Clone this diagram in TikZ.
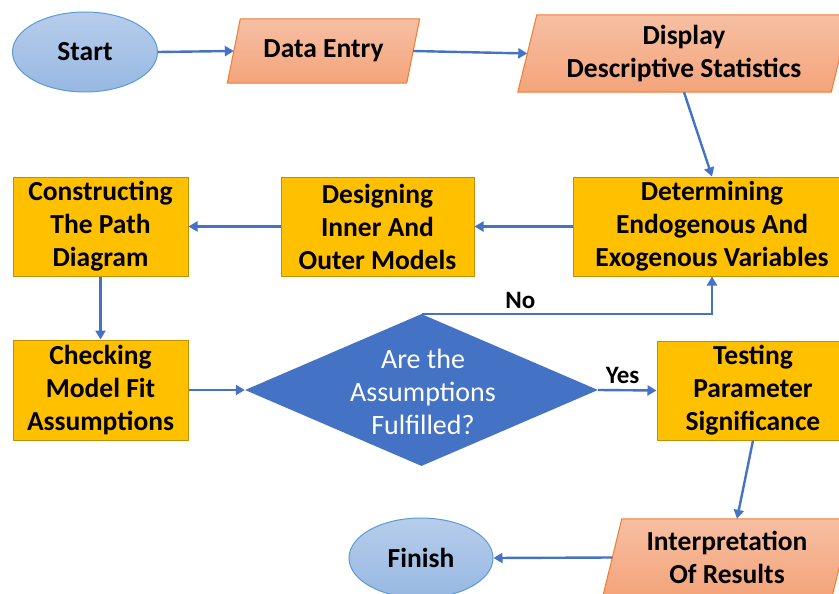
\documentclass[tikz,border=0pt]{standalone}
\usepackage{fontspec}
\setmainfont{Carlito}
\usetikzlibrary{shapes.geometric,arrows.meta,backgrounds}

\definecolor{flowblue}{HTML}{4472C4}
\definecolor{ovalline}{HTML}{5B9BD5}
\definecolor{ovaltop}{HTML}{B7CDEB}
\definecolor{ovalbot}{HTML}{97B8E2}
\definecolor{iotop}{HTML}{F6BFA3}
\definecolor{iobot}{HTML}{F4A47A}
\definecolor{ioline}{HTML}{ED7D31}
\definecolor{procfill}{HTML}{FFC000}
\definecolor{procline}{HTML}{BF9000}

\tikzset{
  lbl/.style={font=\fontsize{27.5}{33}\selectfont\bfseries, align=center, text=black},
  oval/.style={ellipse, draw=ovalline, line width=1pt, top color=ovaltop, bottom color=ovalbot,
    inner sep=0pt, lbl},
  iobox/.style={inner sep=0pt, lbl},
  iofill/.style={draw=ioline, line width=1pt, top color=iotop, bottom color=iobot},
  proc/.style={rectangle, draw=procline, line width=1pt, fill=procfill, inner sep=0pt, lbl},
  decide/.style={diamond, fill=flowblue, inner sep=0pt, aspect=2.32},
  decidetext/.style={text=white, align=center, font=\fontsize{28}{33}\selectfont},
  arr/.style={draw=flowblue, line width=2.4pt, -{Triangle[length=9pt,width=10pt]}},
  tag/.style={font=\fontsize{25}{28}\selectfont\bfseries, text=black}
}

\begin{document}
\begin{tikzpicture}[x=1pt, y=-1pt]
\useasboundingbox (0,0) rectangle (839,594);

% terminals
\node[oval, minimum width=145pt, minimum height=80pt] (start) at (85,52) {Start};
\node[oval, minimum width=144pt, minimum height=80pt] (fin) at (421,558) {Finish};

% input / output boxes (outline drawn on the background layer)
\node[iobox, minimum width=179pt, minimum height=64pt] (de) at (323.5,51) {Data Entry};
\node[iobox, minimum width=313pt, minimum height=77pt] (dis) at (684,53.5) {Display\\Descriptive Statistics};
\node[iobox, minimum width=229pt, minimum height=77pt] (int) at (727,557.5) {Interpretation\\Of Results};

\begin{pgfonlayer}{background}
  \path[iofill] ([xshift=6.5pt]de.north west) -- ([xshift=6.5pt]de.north east)
    -- ([xshift=-6.5pt]de.south east) -- ([xshift=-6.5pt]de.south west) -- cycle;
  \path[iofill] ([xshift=9.5pt]dis.north west) -- ([xshift=9.5pt]dis.north east)
    -- ([xshift=-9.5pt]dis.south east) -- ([xshift=-9.5pt]dis.south west) -- cycle;
  \path[iofill] ([xshift=9.5pt]int.north west) -- ([xshift=9.5pt]int.north east)
    -- ([xshift=-9.5pt]int.south east) -- ([xshift=-9.5pt]int.south west) -- cycle;
\end{pgfonlayer}

% process boxes
\node[proc, minimum width=278pt, minimum height=99pt] (det) at (712,226.5)
  {Determining\\Endogenous And\\Exogenous Variables};
\node[proc, minimum width=193pt, minimum height=99pt] (des) at (377.5,226.5)
  {Designing\\Inner And\\Outer Models};
\node[proc, minimum width=175pt, minimum height=99pt] (con) at (100.5,226.5)
  {Constructing\\The Path\\Diagram};
\node[proc, minimum width=175pt, minimum height=100pt] (chk) at (100.5,390)
  {Checking\\Model Fit\\Assumptions};
\node[proc, minimum width=192pt, minimum height=99pt] (test) at (753,390.5)
  {Testing\\Parameter\\Significance};

% decision
\node[decide, minimum width=353pt, minimum height=152pt] (dia) at (421.5,390) {};
\node[decidetext] (q) at (423,392) {Are the\\Assumptions\\Fulfilled?};

% connectors
\draw[arr] (start.east) -- (de.west);
\draw[arr] (de.east) -- (dis.west);
\draw[arr] (dis.south) -- (det.north);
\draw[arr] (det.west) -- (des.east);
\draw[arr] (des.west) -- (con.east);
\draw[arr] (con.south) -- (chk.north);
\draw[arr] (chk.east) -- (dia.west);
\draw[arr] (dia.east) -- node[tag, above, pos=0.42, yshift=2pt] {Yes} (test.west);
\draw[arr] (dia.north) -| node[tag, above, pos=0.17, yshift=1pt] {No} (det.south);
\draw[arr] (test.south) -- ([xshift=10pt]int.north);
\draw[arr] (int.west) -- (fin.east);
\end{tikzpicture}
\end{document}
